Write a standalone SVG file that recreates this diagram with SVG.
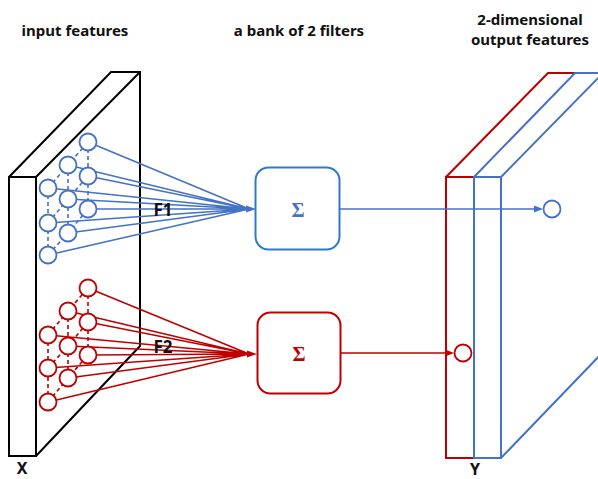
<svg xmlns="http://www.w3.org/2000/svg" width="598" height="479" viewBox="0 0 598 479">
<style>
.title{font-family:"Noto Sans","Liberation Sans",sans-serif;font-weight:bold;font-size:15px;fill:#111;text-anchor:middle}
.lab{font-family:"Noto Sans","Liberation Sans",sans-serif;font-weight:bold;font-size:17px;fill:#111;text-anchor:middle}
.xy{font-family:"Noto Sans","Liberation Sans",sans-serif;font-weight:bold;font-size:16px;fill:#111;text-anchor:middle}
.sig{font-family:"Liberation Serif",serif;font-weight:bold;font-size:20px;text-anchor:middle}
.slab{fill:none;stroke:#000;stroke-width:2;stroke-linejoin:miter}
.bl{stroke:#4472C4;stroke-width:1.6;fill:none}
.rl{stroke:#C00000;stroke-width:1.6;fill:none}
.bd{stroke:#4472C4;stroke-width:1.6;stroke-dasharray:4 3;fill:none}
.rd{stroke:#C00000;stroke-width:1.6;stroke-dasharray:4 3;fill:none}
.bc{fill:#fff;stroke:#4472C4;stroke-width:1.8}
.rc{fill:#fff;stroke:#C00000;stroke-width:1.8}
</style>
<rect width="598" height="479" fill="#fff"/>
<text class="title" x="75" y="36">input features</text>
<text class="title" x="299" y="36">a bank of 2 filters</text>
<text class="title" x="530" y="25">2-dimensional</text>
<text class="title" x="530" y="45">output features</text>

<g id="input-slab">
<path class="slab" d="M9,177 L36,177 L36,456 L9,456 Z M9,177 L111,72 L140,72 L140,346 L36,456 M36,177 L140,72"/>
<text class="xy" x="22" y="474">X</text>
</g>

<g id="output-slab">
<path fill="none" stroke="#C00000" stroke-width="2" d="M474,458 L446,458 L446,177 L474,177 M446,177 L548,73 L575,73"/>
<path fill="none" stroke="#4472C4" stroke-width="2" d="M474,177 L501,177 L501,458 L474,458 Z M474,177 L575,73 L600,73 M501,177 L602,74 M501,458 L606,349"/>
<text class="xy" x="475" y="475">Y</text>
</g>

<g id="connectors">
<g id="f1-lines">
<path class="bd" d="M48,188 L48,223 L48,255 M68,165 L68,199 L68,233 M88,142 L88,176 L88,209 M48,188 L68,165 L88,142 M48,223 L68,199 L88,176 M48,255 L68,233 L88,209"/>
<path class="bl" d="M48,188 L249,209 M48,223 L249,209 M48,255 L249,209 M68,165 L249,209 M68,199 L249,209 M68,233 L249,209 M88,142 L249,209 M88,176 L249,209 M88,209 L249,209"/>
<polygon points="256,209 246,205.5 246,212.5" fill="#4472C4"/>
</g>
<g id="f2-lines">
<path class="rd" d="M48,335 L48,368 L48,402 M68,311 L68,346 L68,378 M88,288 L88,322 L88,355 M48,335 L68,311 L88,288 M48,368 L68,346 L88,322 M48,402 L68,378 L88,355"/>
<path class="rl" d="M48,335 L249,354 M48,368 L249,354 M48,402 L249,354 M68,311 L249,354 M68,346 L249,354 M68,378 L249,354 M88,288 L249,354 M88,322 L249,354 M88,355 L249,354"/>
<polygon points="257,354 247,350.5 247,357.5" fill="#C00000"/>
</g>
<g id="out-lines">
<path class="bl" d="M340,209 L536,209"/>
<polygon points="543,209 534,205.5 534,212.5" fill="#4472C4"/>
<path class="rl" d="M341,353 L447,353"/>
<polygon points="454,353 445,349.5 445,356.5" fill="#C00000"/>
</g>
</g>

<g id="f1-neurons">
<circle class="bc" cx="48" cy="188" r="8.5"/><circle class="bc" cx="48" cy="223" r="8.5"/><circle class="bc" cx="48" cy="255" r="8.5"/>
<circle class="bc" cx="68" cy="165" r="8.5"/><circle class="bc" cx="68" cy="199" r="8.5"/><circle class="bc" cx="68" cy="233" r="8.5"/>
<circle class="bc" cx="88" cy="142" r="8.5"/><circle class="bc" cx="88" cy="176" r="8.5"/><circle class="bc" cx="88" cy="209" r="8.5"/>
</g>
<g id="f2-neurons">
<circle class="rc" cx="48" cy="335" r="8.5"/><circle class="rc" cx="48" cy="368" r="8.5"/><circle class="rc" cx="48" cy="402" r="8.5"/>
<circle class="rc" cx="68" cy="311" r="8.5"/><circle class="rc" cx="68" cy="346" r="8.5"/><circle class="rc" cx="68" cy="378" r="8.5"/>
<circle class="rc" cx="88" cy="288" r="8.5"/><circle class="rc" cx="88" cy="322" r="8.5"/><circle class="rc" cx="88" cy="355" r="8.5"/>
</g>

<g id="label-f1"><text class="lab" x="163" y="216">F1</text></g>
<g id="label-f2"><text class="lab" x="163" y="353">F2</text></g>

<g id="sum-f1">
<rect x="255.5" y="167.5" width="84" height="82" rx="13" fill="#fff" stroke="#2E7AC8" stroke-width="2"/>
<text class="sig" x="298" y="217" fill="#4472C4">Σ</text>
</g>
<g id="sum-f2">
<rect x="257.5" y="312.5" width="83" height="81" rx="13" fill="#fff" stroke="#C00000" stroke-width="2"/>
<text class="sig" x="299" y="361" fill="#C00000">Σ</text>
</g>

<g id="out-y1"><circle class="bc" cx="552" cy="209" r="8.5"/></g>
<g id="out-y2"><circle class="rc" cx="463" cy="353" r="8.5"/></g>
</svg>
